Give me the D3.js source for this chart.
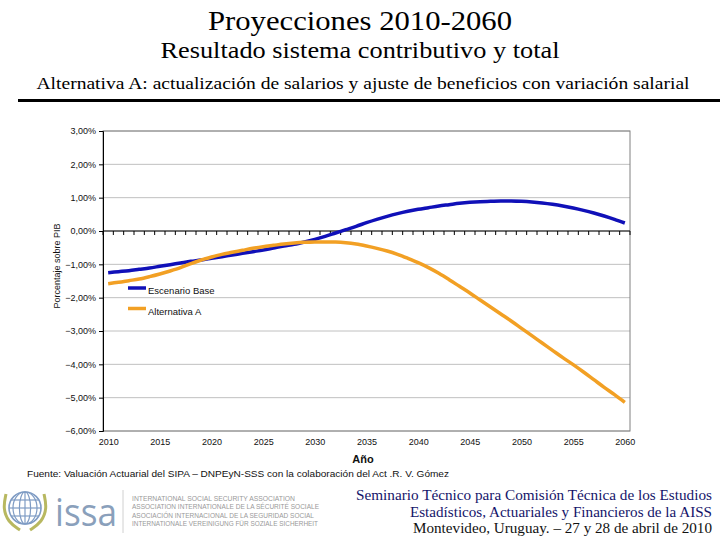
<!DOCTYPE html>
<html><head><meta charset="utf-8">
<script src="https://cdn.jsdelivr.net/npm/d3@7"></script>
<style>body{margin:0;background:#fff}svg{display:block}</style>
</head><body>
<script>
const years = d3.range(2010, 2061);
const escenarioBase = [-1.25,-1.22,-1.19,-1.15,-1.11,-1.06,-1.01,-0.96,-0.91,-0.87,-0.82,-0.77,-0.72,-0.67,-0.62,-0.57,-0.51,-0.45,-0.40,-0.33,-0.25,-0.16,-0.06,0.04,0.14,0.25,0.35,0.44,0.52,0.59,0.65,0.70,0.75,0.79,0.83,0.86,0.88,0.89,0.90,0.90,0.89,0.87,0.84,0.80,0.75,0.69,0.62,0.54,0.45,0.35,0.24];
const alternativaA = [-1.58,-1.54,-1.49,-1.44,-1.37,-1.29,-1.20,-1.10,-0.98,-0.87,-0.78,-0.70,-0.64,-0.58,-0.52,-0.47,-0.43,-0.39,-0.36,-0.34,-0.33,-0.33,-0.33,-0.35,-0.39,-0.45,-0.52,-0.60,-0.70,-0.82,-0.95,-1.10,-1.27,-1.46,-1.66,-1.86,-2.07,-2.28,-2.49,-2.70,-2.92,-3.14,-3.36,-3.58,-3.80,-4.01,-4.23,-4.46,-4.69,-4.91,-5.14];
const yTicks = [3,2,1,0,-1,-2,-3,-4,-5,-6];
const xLabels = [2010,2015,2020,2025,2030,2035,2040,2045,2050,2055,2060];
const seriesNames = ["Escenario Base","Alternativa A"];
const seriesColors = ["#1010B8","#F2A024"];

const W=720,H=540;
const svg = d3.select("body").append("svg").attr("width",W).attr("height",H);
const sans = "Arial, 'Liberation Sans', sans-serif";
const serif = "'Liberation Serif','DejaVu Serif',serif";

// Header
svg.append("text").attr("x",360).attr("y",30).attr("text-anchor","middle")
  .attr("font-family",serif).attr("font-size",27).attr("textLength",304).attr("lengthAdjust","spacingAndGlyphs")
  .text("Proyecciones 2010-2060");
svg.append("text").attr("x",360).attr("y",58).attr("text-anchor","middle")
  .attr("font-family",serif).attr("font-size",23).attr("textLength",399).attr("lengthAdjust","spacingAndGlyphs")
  .text("Resultado sistema contributivo y total");
svg.append("text").attr("x",363).attr("y",89).attr("text-anchor","middle")
  .attr("font-family",serif).attr("font-size",17).attr("textLength",653).attr("lengthAdjust","spacingAndGlyphs")
  .text("Alternativa A: actualización de salarios y ajuste de beneficios con variación salarial");
svg.append("rect").attr("x",18).attr("y",99).attr("width",702).attr("height",3).attr("fill","#000");

// Chart
const L=103,R=630,T=131,B=431;
const x = d3.scalePoint().domain(years).range([L,R]).padding(0.5);
const y = d3.scaleLinear().domain([-6,3]).range([B,T]);

const g = svg.append("g");
g.selectAll("line.grid").data(yTicks).enter().append("line")
  .attr("x1",L).attr("x2",R).attr("y1",d=>y(d)).attr("y2",d=>y(d))
  .attr("stroke","#c0c0c0").attr("stroke-width",1);
g.append("rect").attr("x",L).attr("y",T).attr("width",R-L).attr("height",B-T)
  .attr("fill","none").attr("stroke","#808080").attr("stroke-width",1);

const yAxis = d3.axisLeft(y).tickValues(yTicks).tickSize(4).tickPadding(3)
  .tickFormat(d=>d3.format(".2f")(d).replace(".",",")+"%");
const ya = g.append("g").attr("transform",`translate(${L},0)`).call(yAxis);
ya.select(".domain").attr("stroke","#000");
ya.selectAll("text").attr("font-family",sans).attr("font-size",9).attr("fill","#111");

const boundaries = d3.range(years.length+1).map(i=>L+i*(R-L)/years.length);
g.append("line").attr("x1",L).attr("x2",R).attr("y1",y(0)).attr("y2",y(0)).attr("stroke","#000");
g.selectAll("line.xt").data(boundaries).enter().append("line")
  .attr("x1",d=>d).attr("x2",d=>d).attr("y1",y(0)).attr("y2",y(0)+4).attr("stroke","#000");
const xAxis = d3.axisBottom(x).tickValues(xLabels).tickSize(0).tickPadding(8);
const xa = g.append("g").attr("transform",`translate(0,${B})`).call(xAxis);
xa.select(".domain").remove();
xa.selectAll("text").attr("font-family",sans).attr("font-size",9).attr("fill","#111");

const line = d3.line().x((d,i)=>x(years[i])).y(d=>y(d)).curve(d3.curveCatmullRom.alpha(0.5));
[escenarioBase, alternativaA].forEach((s,k)=>{
  g.append("path").datum(s).attr("d",line).attr("fill","none")
   .attr("stroke",seriesColors[k]).attr("stroke-width",3.5).attr("stroke-linejoin","round");
});

seriesNames.forEach((n,k)=>{
  const ly = 288 + k*20.5;
  g.append("line").attr("x1",128).attr("x2",146).attr("y1",ly).attr("y2",ly)
    .attr("stroke",seriesColors[k]).attr("stroke-width",3.5);
  g.append("text").attr("x",148).attr("y",ly+6).attr("font-family",sans).attr("font-size",9.5)
    .attr("fill","#111").text(n);
});

svg.append("text").attr("transform","translate(60,266) rotate(-90)").attr("text-anchor","middle")
  .attr("font-family",sans).attr("font-size",9).attr("fill","#111").text("Porcentaje sobre PIB");
svg.append("text").attr("x",363).attr("y",463).attr("text-anchor","middle")
  .attr("font-family",sans).attr("font-size",11).attr("font-weight","bold").attr("fill","#111").text("Año");

svg.append("text").attr("x",27).attr("y",477).attr("font-family",sans).attr("font-size",9)
  .attr("fill","#111").attr("textLength",422).attr("lengthAdjust","spacingAndGlyphs")
  .text("Fuente: Valuación Actuarial del SIPA – DNPEyN-SSS con la colaboración del Act .R. V. Gómez");

const semLines = ["Seminario Técnico para Comisión Técnica de los Estudios","Estadísticos, Actuariales y Financieros de la AISS","Montevideo, Uruguay. – 27 y 28 de abril de 2010"];
const semColors = ["#14146a","#14146a","#111"];
const semWidths = [356,302,299];
semLines.forEach((t,i)=>{
  svg.append("text").attr("x",712).attr("y",500+i*16.5).attr("text-anchor","end")
    .attr("font-family",serif).attr("font-size",14).attr("fill",semColors[i])
    .attr("textLength",semWidths[i]).attr("lengthAdjust","spacingAndGlyphs").text(t);
});

const logo = svg.append("g");
const cx=25, cy=508, r=16;
logo.append("circle").attr("cx",cx).attr("cy",cy).attr("r",r).attr("fill","none").attr("stroke","#7f9cc4").attr("stroke-width",1.6);
[-8,0,8].forEach(dy=>{
  const hw = Math.sqrt(r*r-dy*dy);
  logo.append("line").attr("x1",cx-hw).attr("x2",cx+hw).attr("y1",cy+dy).attr("y2",cy+dy).attr("stroke","#7f9cc4").attr("stroke-width",1.2);
});
[0.35,0.75].forEach(f=>{
  logo.append("ellipse").attr("cx",cx).attr("cy",cy).attr("rx",r*f).attr("ry",r).attr("fill","none").attr("stroke","#7f9cc4").attr("stroke-width",1.2);
});
logo.append("line").attr("x1",cx).attr("x2",cx).attr("y1",cy-r).attr("y2",cy+r).attr("stroke","#7f9cc4").attr("stroke-width",1.2);
const laurel = d3.line().curve(d3.curveBasis);
logo.append("path").attr("d",laurel([[6,494],[3,508],[8,522],[20,530]])).attr("fill","none").attr("stroke","#b8b860").attr("stroke-width",3);
logo.append("path").attr("d",laurel([[44,494],[47,508],[42,522],[30,530]])).attr("fill","none").attr("stroke","#b8b860").attr("stroke-width",3);
logo.append("text").attr("x",55).attr("y",526).attr("font-family","'Open Sans',sans-serif").attr("font-size",38)
  .attr("fill","#8aa0bb").attr("textLength",62).attr("lengthAdjust","spacingAndGlyphs").text("issa");
logo.append("line").attr("x1",123).attr("x2",123).attr("y1",490).attr("y2",533).attr("stroke","#d0d0d0");
const issaLines = ["INTERNATIONAL SOCIAL SECURITY ASSOCIATION","ASSOCIATION INTERNATIONALE DE LA SÉCURITÉ SOCIALE","ASOCIACIÓN INTERNACIONAL DE LA SEGURIDAD SOCIAL","INTERNATIONALE VEREINIGUNG FÜR SOZIALE SICHERHEIT"];
const issaW = [163,187,182,186];
issaLines.forEach((t,i)=>{
  logo.append("text").attr("x",132).attr("y",501+i*8.3).attr("font-family",sans).attr("font-size",7)
    .attr("fill","#999").attr("textLength",issaW[i]).attr("lengthAdjust","spacingAndGlyphs").text(t);
});
</script>
</body></html>
